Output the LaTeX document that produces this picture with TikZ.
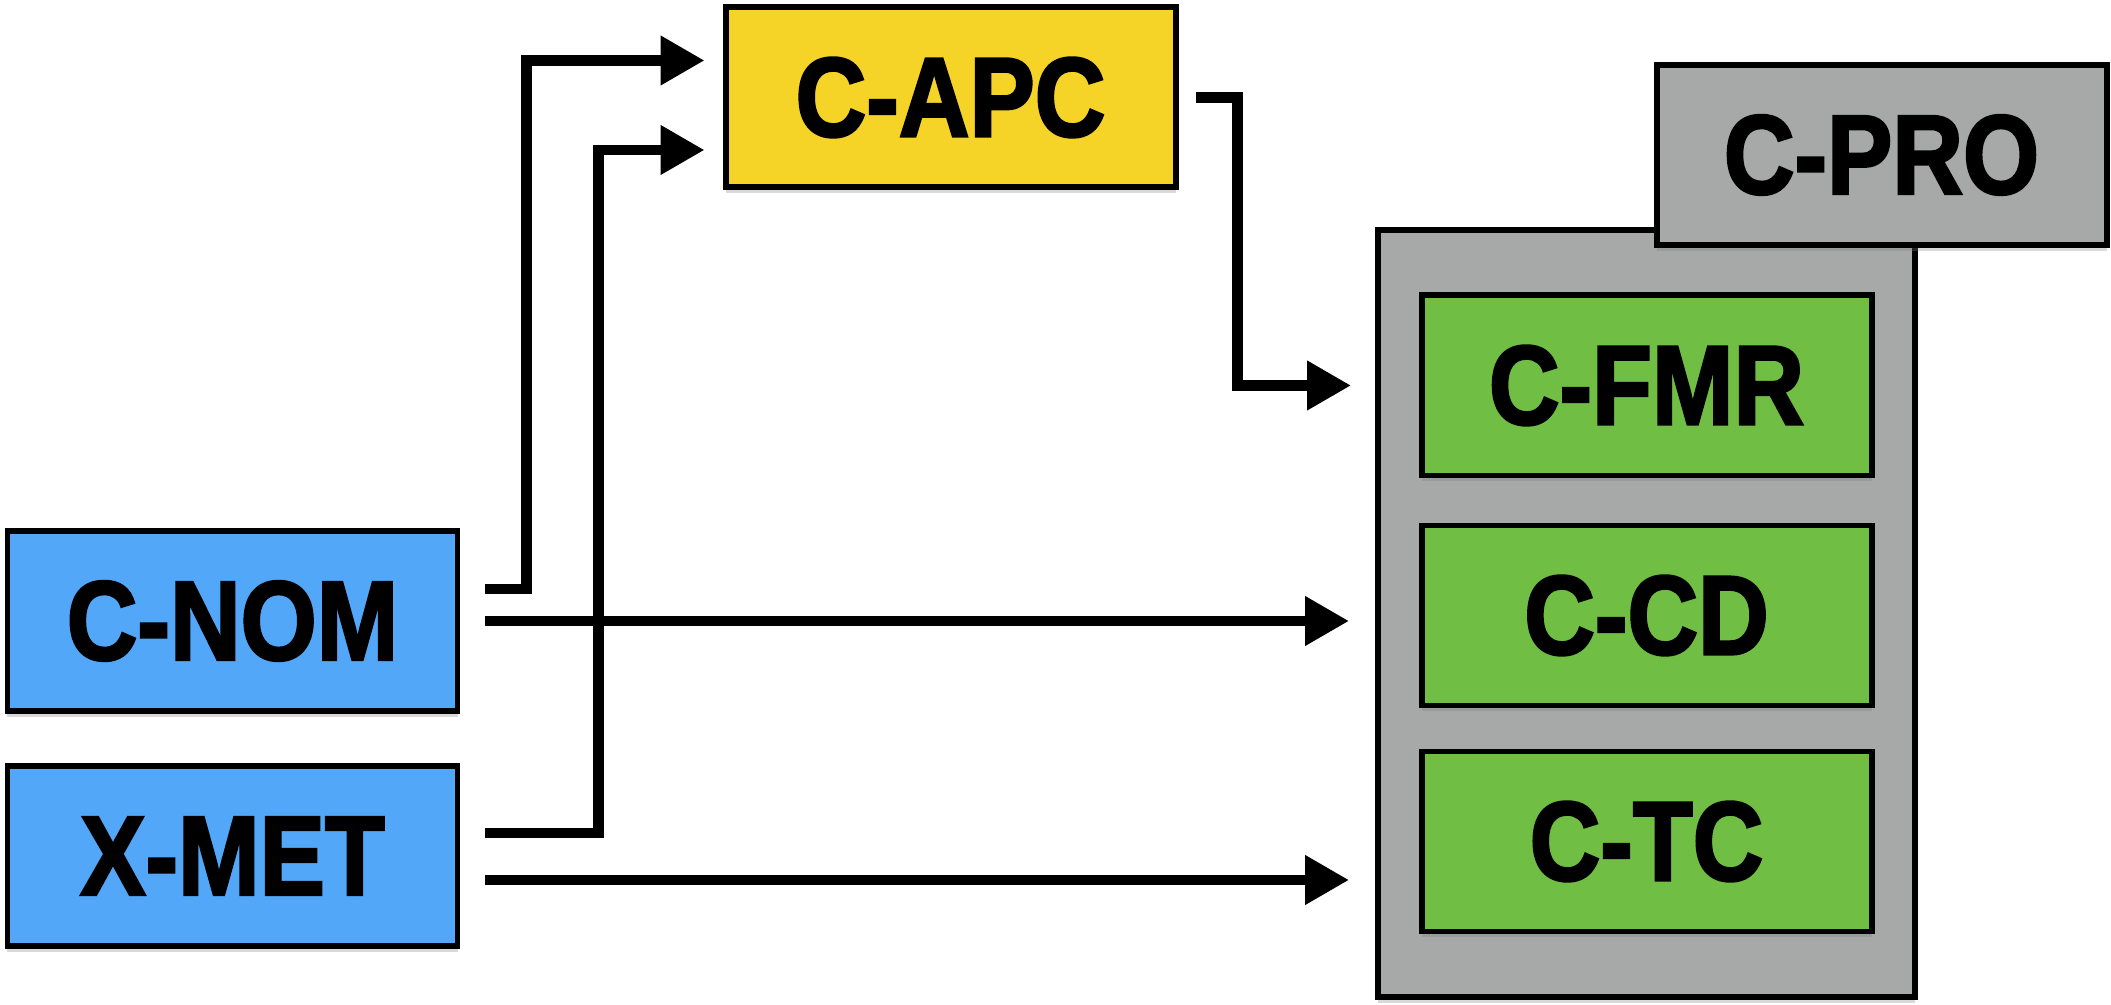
\documentclass[tikz,border=0pt]{standalone}
\usepackage{fontspec}
\setmainfont{Liberation Sans}[BoldFeatures={FakeBold=2.5}]
\usepackage{tikz}
\usetikzlibrary{positioning}
\usetikzlibrary{arrows.meta, shadows}

\definecolor{apcyellow}{RGB}{245,211,39}
\definecolor{nomblue}{RGB}{82,167,249}
\definecolor{fmrgreen}{RGB}{112,191,68}
\definecolor{progray}{RGB}{166,169,167}

\newcommand{\boxlabel}[1]{\scalebox{0.87}[1]{#1}}

\tikzset{
  box/.style={draw=black, line width=1.7pt, minimum width=4.5cm, minimum height=1.8cm,
    font=\fontsize{32}{38}\selectfont\bfseries,
    drop shadow={shadow xshift=0pt, shadow yshift=-0.6mm, opacity=0.3}},
  flow/.style={line width=3pt, -{Triangle[length=0.44cm, width=0.47cm]}}
}

\begin{document}
\begin{tikzpicture}
\useasboundingbox (0,0) rectangle (21.11,10.05);

\node[box, fill=progray, minimum width=5.37cm, minimum height=7.67cm] (frame) at (16.465,3.915) {};
\node[box, fill=progray] (pro) at (18.815,8.50) {\boxlabel{C-PRO}};

\node[box, fill=fmrgreen] (fmr) at (16.465,6.195) {\boxlabel{C-FMR}};
\node[box, fill=fmrgreen] (cd) at (16.465,3.895) {\boxlabel{C-CD}};
\node[box, fill=fmrgreen] (tc) at (16.465,1.635) {\boxlabel{C-TC}};

\node[box, fill=apcyellow] (apc) at (9.505,9.075) {\boxlabel{C-APC}};

\node[box, fill=nomblue] (nom) at (2.325,3.84) {\boxlabel{C-NOM}};
\node[box, fill=nomblue] (met) at (2.325,1.49) {\boxlabel{X-MET}};

\draw[flow, shorten <=0.25cm, shorten >=0.18cm] ([yshift=3.2mm]nom.east) -- ++(0.66,0) |- ([yshift=3.7mm]apc.west);
\draw[flow, shorten <=0.25cm, shorten >=0.18cm] ([yshift=2.3mm]met.east) -- ++(1.38,0) |- ([yshift=-5.25mm]apc.west);
\draw[flow, shorten <=0.17cm, shorten >=0.24cm] (apc.east) -- ++(0.59,0) |- (frame.west |- fmr.west);
\draw[flow, shorten <=0.25cm, shorten >=0.26cm] (nom.east) -- (nom.east -| frame.west);
\draw[flow, shorten <=0.25cm, shorten >=0.26cm] ([yshift=-2.4mm]met.east) -- ([yshift=-2.4mm]met.east -| frame.west);

\end{tikzpicture}
\end{document}
